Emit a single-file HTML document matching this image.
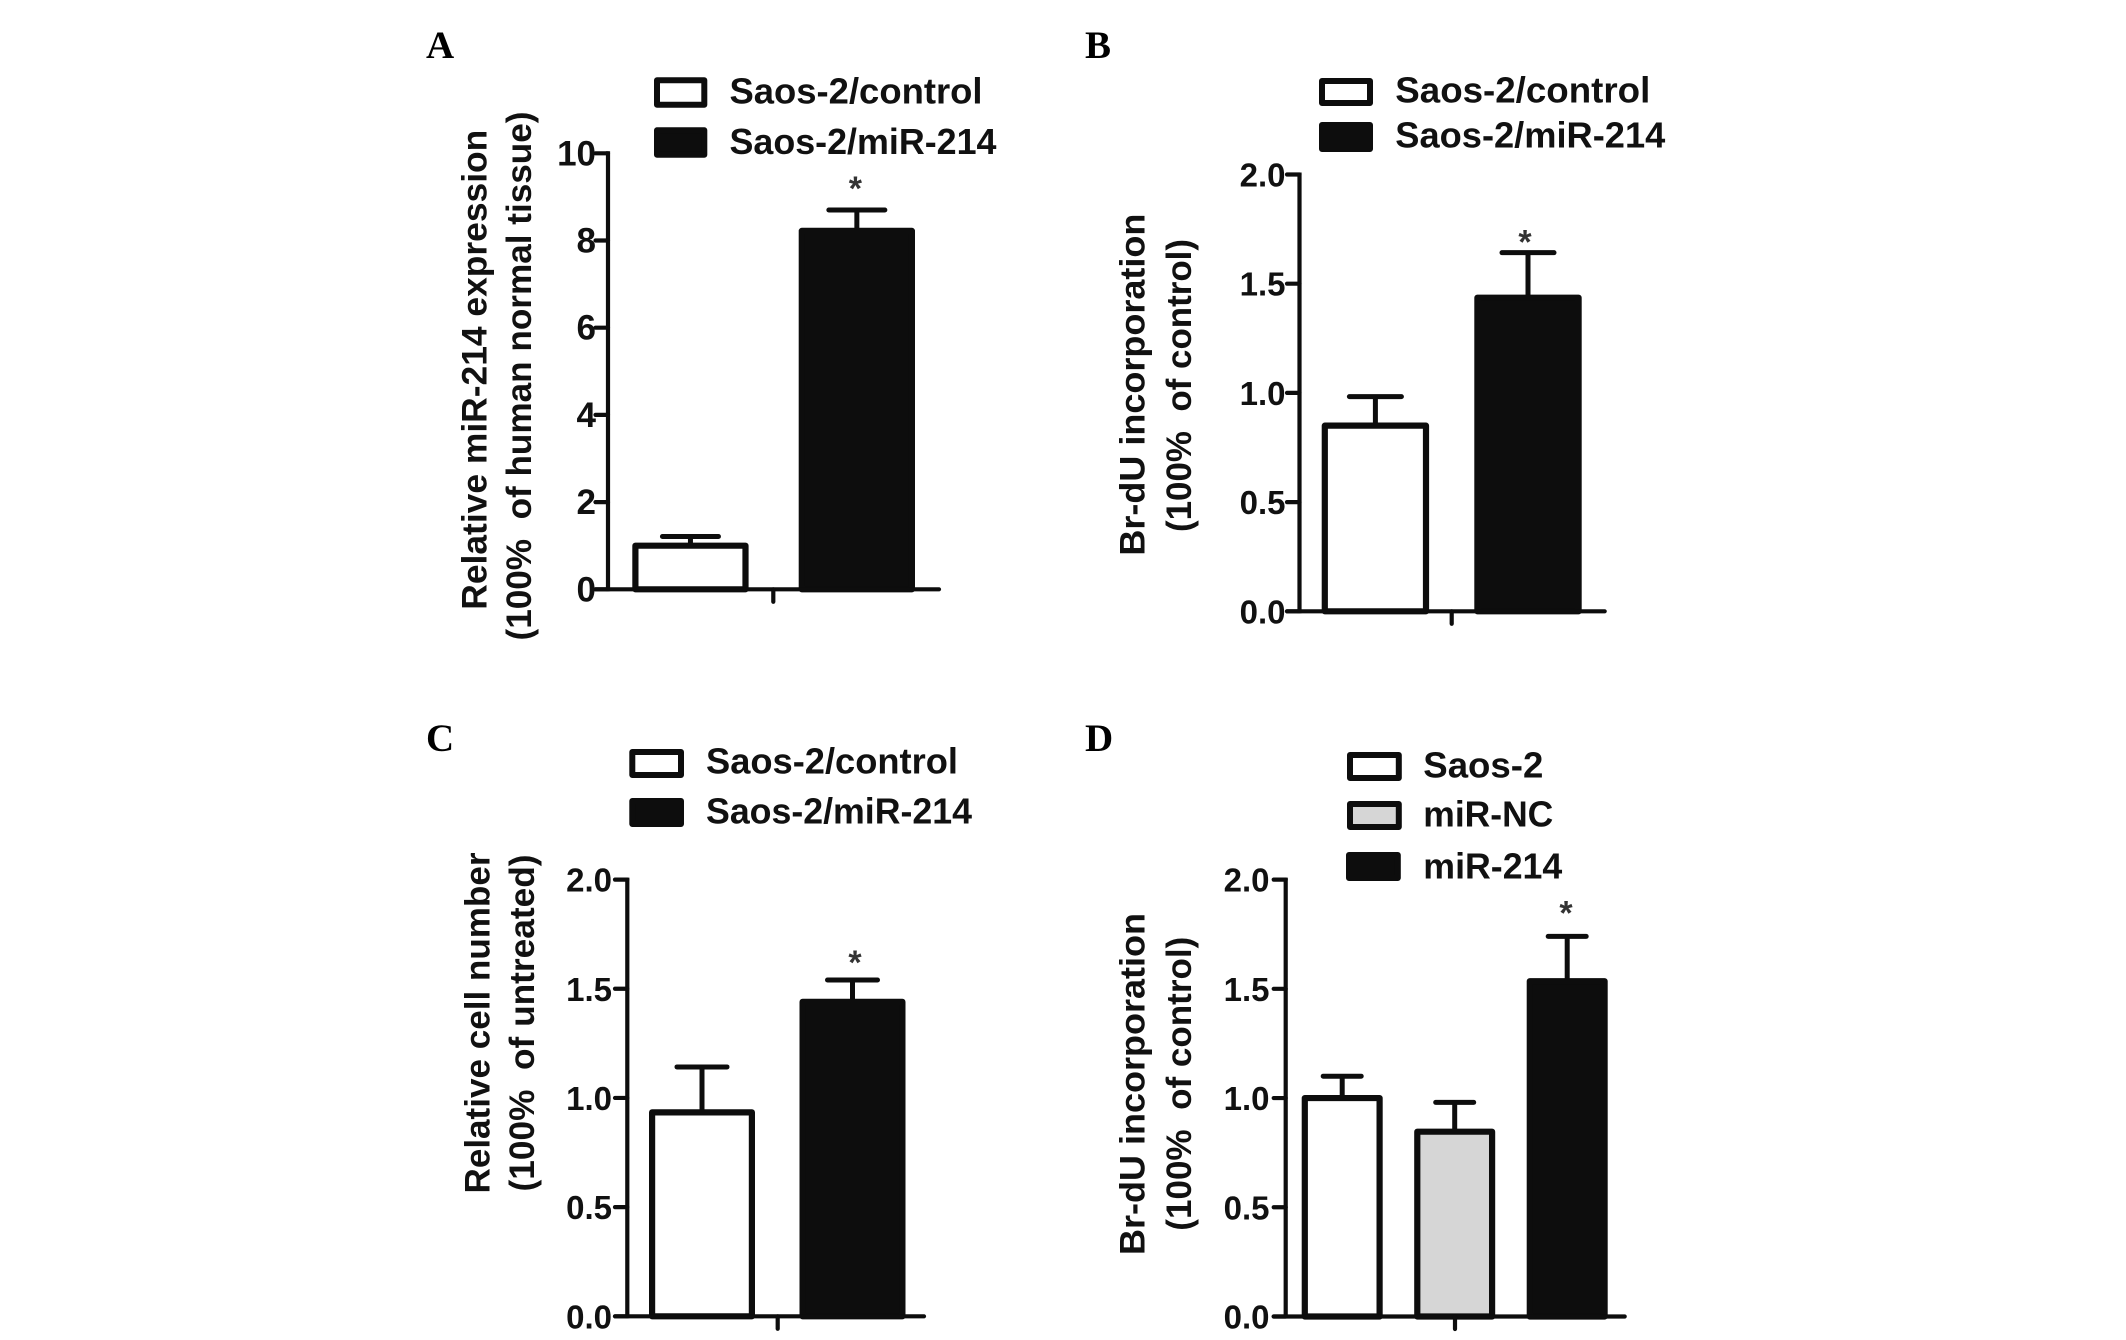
<!DOCTYPE html>
<html lang="en">
<head>
<meta charset="utf-8">
<title>miR-214 bar charts</title>
<style>
html,body{margin:0;padding:0;background:#fff;width:2126px;height:1340px;overflow:hidden}
svg{display:block}
text{font-family:"Liberation Sans",Arial,sans-serif;font-weight:700;fill:#111}
.letter{font-family:"Liberation Serif","Times New Roman",serif;font-size:39px;fill:#000}
.leg{font-size:36px}
.title{font-size:35.5px;text-anchor:middle}
.tick{text-anchor:end}
.star{font-size:34px;text-anchor:middle;fill:#333}
</style>
</head>
<body>
<svg id="figure" width="2126" height="1340" viewBox="0 0 2126 1340" xmlns="http://www.w3.org/2000/svg">
<g>
<text class="letter" x="426" y="58">A</text>
<text class="letter" x="1085" y="58">B</text>
<text class="letter" x="426" y="751">C</text>
<text class="letter" x="1085" y="751">D</text>
</g>
<g>
<text class="title" transform="translate(486.7 369.7) rotate(-90)" textLength="480" lengthAdjust="spacingAndGlyphs">Relative miR-214 expression</text>
<text class="title" transform="translate(530.8 376) rotate(-90)" textLength="529" lengthAdjust="spacingAndGlyphs">(100%&#160; of human normal tissue)</text>
<text class="title" transform="translate(1144.6 384.6) rotate(-90)" textLength="342" lengthAdjust="spacingAndGlyphs">Br-dU incorporation</text>
<text class="title" transform="translate(1191 385.5) rotate(-90)" textLength="293" lengthAdjust="spacingAndGlyphs">(100%&#160; of control)</text>
<text class="title" transform="translate(489.7 1023) rotate(-90)" textLength="341" lengthAdjust="spacingAndGlyphs">Relative cell number</text>
<text class="title" transform="translate(534 1023) rotate(-90)" textLength="337" lengthAdjust="spacingAndGlyphs">(100%&#160; of untreated)</text>
<text class="title" transform="translate(1144.6 1084) rotate(-90)" textLength="342" lengthAdjust="spacingAndGlyphs">Br-dU incorporation</text>
<text class="title" transform="translate(1191 1083.7) rotate(-90)" textLength="294" lengthAdjust="spacingAndGlyphs">(100%&#160; of control)</text>
</g>
<g stroke-linejoin="round">
<g>
<rect x="657" y="80.3" width="47.3" height="24.4" fill="#fff" stroke="#0d0d0d" stroke-width="6"/>
<text class="leg" x="729.5" y="103.3" textLength="253" lengthAdjust="spacingAndGlyphs">Saos-2/control</text>
<rect x="657" y="130.3" width="47.3" height="24.4" fill="#0d0d0d" stroke="#0d0d0d" stroke-width="6"/>
<text class="leg" x="729.5" y="154" textLength="267" lengthAdjust="spacingAndGlyphs">Saos-2/miR-214</text>
</g>
<g>
<rect x="1322" y="81" width="48" height="22" fill="#fff" stroke="#0d0d0d" stroke-width="6"/>
<text class="leg" x="1395.3" y="102.6" textLength="255" lengthAdjust="spacingAndGlyphs">Saos-2/control</text>
<rect x="1322" y="125" width="48" height="24" fill="#0d0d0d" stroke="#0d0d0d" stroke-width="6"/>
<text class="leg" x="1395.3" y="147.4" textLength="270" lengthAdjust="spacingAndGlyphs">Saos-2/miR-214</text>
</g>
<g>
<rect x="632.3" y="752" width="48.7" height="23" fill="#fff" stroke="#0d0d0d" stroke-width="6"/>
<text class="leg" x="706" y="773.5" textLength="252" lengthAdjust="spacingAndGlyphs">Saos-2/control</text>
<rect x="632.3" y="801" width="48.7" height="23" fill="#0d0d0d" stroke="#0d0d0d" stroke-width="6"/>
<text class="leg" x="706" y="823.7" textLength="266" lengthAdjust="spacingAndGlyphs">Saos-2/miR-214</text>
</g>
<g>
<rect x="1350" y="755" width="48.8" height="23" fill="#fff" stroke="#0d0d0d" stroke-width="6"/>
<text class="leg" x="1423.3" y="777.6" textLength="120" lengthAdjust="spacingAndGlyphs">Saos-2</text>
<rect x="1350" y="804" width="48.8" height="23" fill="#d6d6d6" stroke="#0d0d0d" stroke-width="6"/>
<text class="leg" x="1423.3" y="826.5" textLength="130" lengthAdjust="spacingAndGlyphs">miR-NC</text>
<rect x="1349" y="855" width="48.8" height="23" fill="#0d0d0d" stroke="#0d0d0d" stroke-width="6"/>
<text class="leg" x="1423.3" y="878.5" textLength="139" lengthAdjust="spacingAndGlyphs">miR-214</text>
</g>
</g>
</svg>
<script>
// ---- Chart data ----
const categoriesA = ['Saos-2/control', 'Saos-2/miR-214'];
const valuesA = [1.0, 8.22];
const upperErrorsA = [1.21, 8.7];
const tickValuesA = [0, 2, 4, 6, 8, 10];
const tickLabelsA = ['0', '2', '4', '6', '8', '10'];

const categoriesB = ['Saos-2/control', 'Saos-2/miR-214'];
const valuesB = [0.85, 1.436];
const upperErrorsB = [0.983, 1.642];
const tickValuesB = [0, 0.5, 1, 1.5, 2];
const tickLabelsB = ['0.0', '0.5', '1.0', '1.5', '2.0'];

const categoriesC = ['Saos-2/control', 'Saos-2/miR-214'];
const valuesC = [0.934, 1.44];
const upperErrorsC = [1.142, 1.54];
const tickValuesC = [0, 0.5, 1, 1.5, 2];
const tickLabelsC = ['0.0', '0.5', '1.0', '1.5', '2.0'];

const categoriesD = ['Saos-2', 'miR-NC', 'miR-214'];
const valuesD = [1.0, 0.846, 1.535];
const upperErrorsD = [1.1, 0.98, 1.74];
const tickValuesD = [0, 0.5, 1, 1.5, 2];
const tickLabelsD = ['0.0', '0.5', '1.0', '1.5', '2.0'];

const INK = '#0d0d0d';
const SVGNS = 'http://www.w3.org/2000/svg';
const figure = document.getElementById('figure');

function shape(parent, tag, attrs) {
  const el = document.createElementNS(SVGNS, tag);
  for (const k in attrs) el.setAttribute(k, attrs[k]);
  parent.appendChild(el);
  return el;
}

function drawPanel(id, categories, values, errors, tickValues, tickLabels, fills, starIndex, frame) {
  const yScale = v => frame.y0 - (v / frame.yMax) * (frame.y0 - frame.yTop);
  const barLeft = i => frame.barStart + i * frame.barStep;

  const panel = shape(figure, 'g', {});
  
  

  categories.forEach((category, i) => {
    const left = barLeft(i);
    const center = left + frame.barWidth / 2;
    const top = yScale(values[i]);
    const capY = yScale(errors[i]);

    const whisker = shape(panel, 'line', {x1: center, x2: center, y1: top, y2: capY, stroke: INK, 'stroke-width': 5});
    
    

    const cap = shape(panel, 'line', {x1: center - frame.capWidth / 2, x2: center + frame.capWidth / 2, y1: capY, y2: capY, stroke: INK, 'stroke-width': 5, 'stroke-linecap': 'round'});
    
    

    const bar = shape(panel, 'rect', {x: left + 3.1, y: top, width: frame.barWidth - 6.2, height: frame.y0 - top, fill: fills[i], stroke: INK, 'stroke-width': 6.2, 'stroke-linejoin': 'round'});
    
    

    if (i === starIndex) {
      const star = shape(panel, 'text', {class: 'star', x: center + frame.starDx, y: capY - frame.starGap});
      star.textContent = '*';
      
      
    }
  });

  const yAxis = shape(panel, 'line', {x1: frame.axisX, x2: frame.axisX, y1: yScale(frame.yMax) - 2, y2: frame.y0 + 2, stroke: INK, 'stroke-width': 4.2});
  
  

  const xAxis = shape(panel, 'line', {x1: frame.tickLeft, x2: frame.xEnd, y1: frame.y0, y2: frame.y0, stroke: INK, 'stroke-width': 4.2, 'stroke-linecap': 'round'});
  
  

  const xTick = shape(panel, 'line', {x1: frame.xTick, x2: frame.xTick, y1: frame.y0, y2: frame.y0 + 12.5, stroke: INK, 'stroke-width': 4.2, 'stroke-linecap': 'round'});
  
  

  tickValues.forEach((v, i) => {
    const y = yScale(v);
    const tick = shape(panel, 'line', {x1: frame.tickLeft, x2: frame.axisX, y1: y, y2: y, stroke: INK, 'stroke-width': 4.2, 'stroke-linecap': 'round'});
    
    

    const label = shape(panel, 'text', {class: 'tick', x: frame.labelRight, y: y + 12, 'font-size': frame.labelSize});
    label.textContent = tickLabels[i];
    
    
  });
}

drawPanel('a', categoriesA, valuesA, upperErrorsA, tickValuesA, tickLabelsA, ['#fff', INK], 1,
  {axisX: 608, y0: 589.3, yTop: 153.3, yMax: 10, tickLeft: 595.5, xEnd: 939, xTick: 773.3, barStart: 632.3, barStep: 166.4, barWidth: 116.3, capWidth: 56, labelRight: 596, labelSize: 35, starDx: -1.5, starGap: 10});
drawPanel('b', categoriesB, valuesB, upperErrorsB, tickValuesB, tickLabelsB, ['#fff', INK], 1,
  {axisX: 1299.5, y0: 611.3, yTop: 174.5, yMax: 2, tickLeft: 1287, xEnd: 1604.7, xTick: 1451.7, barStart: 1321.7, barStep: 152.6, barWidth: 107.4, capWidth: 52, labelRight: 1285.5, labelSize: 33, starDx: -3, starGap: -1});
drawPanel('c', categoriesC, valuesC, upperErrorsC, tickValuesC, tickLabelsC, ['#fff', INK], 1,
  {axisX: 627.3, y0: 1316.3, yTop: 879.6, yMax: 2, tickLeft: 615, xEnd: 924, xTick: 777.7, barStart: 649, barStep: 150.5, barWidth: 106, capWidth: 50, labelRight: 612, labelSize: 33, starDx: 2.5, starGap: 6});
drawPanel('d', categoriesD, valuesD, upperErrorsD, tickValuesD, tickLabelsD, ['#fff', '#d6d6d6', INK], 2,
  {axisX: 1285.7, y0: 1316.5, yTop: 879.6, yMax: 2, tickLeft: 1273.7, xEnd: 1624.7, xTick: 1455, barStart: 1301.7, barStep: 112.5, barWidth: 81, capWidth: 38, labelRight: 1269.5, labelSize: 33, starDx: -1.2, starGap: 12});
</script>
</body>
</html>
